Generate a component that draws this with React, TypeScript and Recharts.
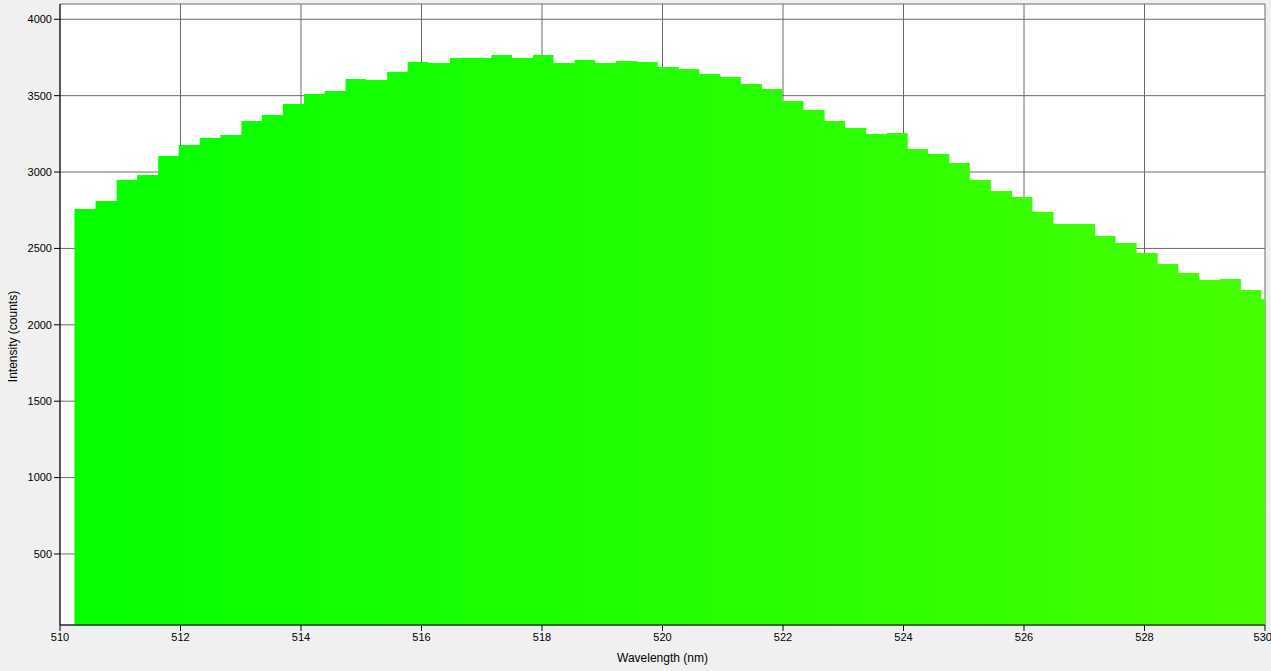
import React from 'react';
import { ComposedChart, Area, XAxis, YAxis, CartesianGrid, Label } from 'recharts';

// bin start wavelengths (nm) of the spectrum histogram
const wavelengths = [
  510.24, 510.59, 510.94, 511.28, 511.63, 511.97, 512.32, 512.66, 513.01, 513.35,
  513.7, 514.05, 514.39, 514.74, 515.08, 515.43, 515.77, 516.12, 516.47, 516.81,
  517.16, 517.5, 517.85, 518.19, 518.54, 518.88, 519.23, 519.58, 519.92, 520.27,
  520.61, 520.96, 521.3, 521.65, 521.99, 522.34, 522.69, 523.03, 523.38, 523.72,
  524.07, 524.41, 524.76, 525.1, 525.45, 525.8, 526.14, 526.49, 526.83, 527.18,
  527.52, 527.87, 528.22, 528.56, 528.91, 529.25, 529.6, 529.94, 530.29,
];

const counts = [
  2758, 2811, 2948, 2981, 3105, 3177, 3223, 3243, 3334, 3374,
  3446, 3511, 3531, 3609, 3602, 3657, 3720, 3714, 3747, 3747,
  3766, 3747, 3766, 3714, 3734, 3714, 3727, 3720, 3688, 3675,
  3642, 3622, 3577, 3544, 3465, 3406, 3334, 3289, 3249, 3256,
  3151, 3118, 3059, 2948, 2876, 2837, 2739, 2660, 2660, 2582,
  2536, 2470, 2398, 2339, 2294, 2300, 2228, 2169, 2169,
];

const xTicks = [510, 512, 514, 516, 518, 520, 522, 524, 526, 528, 530];
const yTicks = [500, 1000, 1500, 2000, 2500, 3000, 3500, 4000];

const data = wavelengths.map((wl, i) => ({ wl, counts: counts[i] }));

const FONT = '"Liberation Sans", Arial, sans-serif';
const tickStyle = { fill: '#000', fontSize: 11, fontFamily: FONT };

const App: React.FC = () => {
  return (
    <div style={{ position: 'absolute', left: 0, top: 0, width: 1271, height: 671, background: '#f0f0f0' }}>
      <ComposedChart width={1271} height={671} data={data} margin={{ top: 4, right: 6, bottom: 0, left: 0 }}>
        <defs>
          <linearGradient id="specFill" gradientUnits="userSpaceOnUse" x1="60" y1="0" x2="1265" y2="0">
            <stop offset="0%" stopColor="#04ff00" />
            <stop offset="50%" stopColor="#22ff00" />
            <stop offset="100%" stopColor="#46ff00" />
          </linearGradient>
        </defs>
        <CartesianGrid stroke="#6a6a6a" strokeWidth={1} fill="#ffffff" fillOpacity={1} />
        <XAxis
          dataKey="wl"
          type="number"
          domain={[510, 530]}
          ticks={xTicks}
          allowDataOverflow
          height={46}
          axisLine={{ stroke: '#000' }}
          tickLine={{ stroke: '#000' }}
          tickSize={6}
          tickMargin={2}
          tick={tickStyle}
        >
          <Label value="Wavelength (nm)" position="insideBottom" offset={9} style={{ fill: '#000', fontSize: 12, fontFamily: FONT }} />
        </XAxis>
        <YAxis
          type="number"
          domain={[35, 4100]}
          ticks={yTicks}
          allowDataOverflow
          width={60}
          axisLine={{ stroke: '#000' }}
          tickLine={{ stroke: '#000' }}
          tickSize={6}
          tickMargin={2}
          tick={tickStyle}
        >
          <Label
            content={({ viewBox }: any) => {
              const cx = viewBox.x + 13;
              const cy = viewBox.y + viewBox.height / 2 + 22;
              return (
                <text
                  x={cx}
                  y={cy}
                  transform={`rotate(-90 ${cx} ${cy})`}
                  textAnchor="middle"
                  dominantBaseline="central"
                  fill="#000"
                  fontSize={12}
                  fontFamily={FONT}
                >
                  Intensity (counts)
                </text>
              );
            }}
          />
        </YAxis>
        <Area
          type="stepAfter"
          dataKey="counts"
          stroke="none"
          fill="url(#specFill)"
          fillOpacity={1}
          isAnimationActive={false}
          dot={false}
          activeDot={false}
        />
      </ComposedChart>
    </div>
  );
};

export default App;
